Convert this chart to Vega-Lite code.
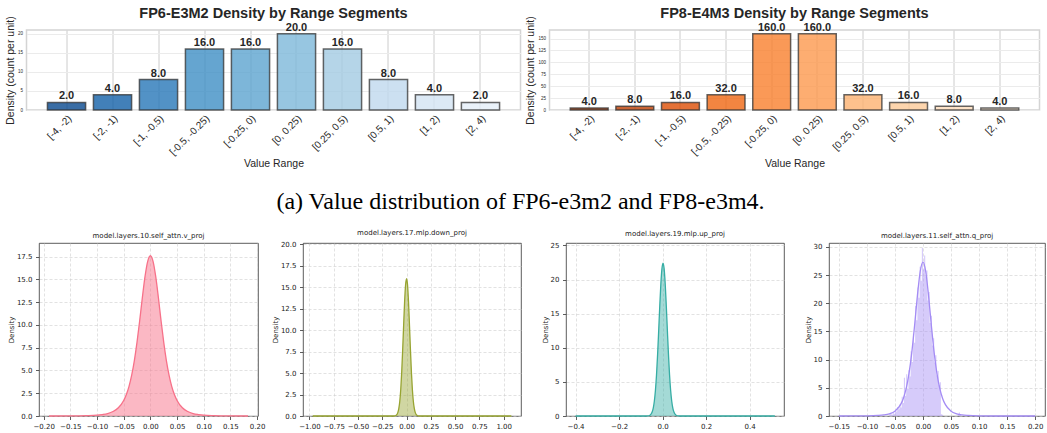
{
  "$schema": "https://vega.github.io/schema/vega-lite/v6.json",
  "background": "white",
  "padding": {"left": 4.5, "top": 5, "right": 0, "bottom": 0},
  "config": {
    "font": "Liberation Sans",
    "title": {"color": "#262626"},
    "axis": {"labelColor": "#262626", "titleColor": "#262626"}
  },
  "datasets": {
    "fp6": [
      {"range": "[-4, -2)", "density": 2},
      {"range": "[-2, -1)", "density": 4},
      {"range": "[-1, -0.5)", "density": 8},
      {"range": "[-0.5, -0.25)", "density": 16},
      {"range": "[-0.25, 0)", "density": 16},
      {"range": "[0, 0.25)", "density": 20},
      {"range": "[0.25, 0.5)", "density": 16},
      {"range": "[0.5, 1)", "density": 8},
      {"range": "[1, 2)", "density": 4},
      {"range": "[2, 4)", "density": 2}
    ],
    "fp8": [
      {"range": "[-4, -2)", "density": 4},
      {"range": "[-2, -1)", "density": 8},
      {"range": "[-1, -0.5)", "density": 16},
      {"range": "[-0.5, -0.25)", "density": 32},
      {"range": "[-0.25, 0)", "density": 160},
      {"range": "[0, 0.25)", "density": 160},
      {"range": "[0.25, 0.5)", "density": 32},
      {"range": "[0.5, 1)", "density": 16},
      {"range": "[1, 2)", "density": 8},
      {"range": "[2, 4)", "density": 4}
    ],
    "p1": [
      {"x": -0.19, "y": 0.0}, {"x": -0.15, "y": 0.01}, {"x": -0.12, "y": 0.04}, {"x": -0.10, "y": 0.09},
      {"x": -0.09, "y": 0.16}, {"x": -0.08, "y": 0.27}, {"x": -0.07, "y": 0.49}, {"x": -0.06, "y": 0.90},
      {"x": -0.05, "y": 1.70}, {"x": -0.045, "y": 2.36}, {"x": -0.04, "y": 3.26}, {"x": -0.035, "y": 4.48},
      {"x": -0.03, "y": 6.09}, {"x": -0.025, "y": 8.11}, {"x": -0.02, "y": 10.48}, {"x": -0.015, "y": 13.01},
      {"x": -0.01, "y": 15.33}, {"x": -0.005, "y": 16.99}, {"x": 0.0, "y": 17.6}, {"x": 0.005, "y": 16.99},
      {"x": 0.01, "y": 15.33}, {"x": 0.015, "y": 13.01}, {"x": 0.02, "y": 10.48}, {"x": 0.025, "y": 8.11},
      {"x": 0.03, "y": 6.09}, {"x": 0.035, "y": 4.48}, {"x": 0.04, "y": 3.26}, {"x": 0.045, "y": 2.36},
      {"x": 0.05, "y": 1.70}, {"x": 0.06, "y": 0.90}, {"x": 0.07, "y": 0.49}, {"x": 0.08, "y": 0.27},
      {"x": 0.09, "y": 0.16}, {"x": 0.10, "y": 0.09}, {"x": 0.12, "y": 0.04}, {"x": 0.15, "y": 0.01},
      {"x": 0.183, "y": 0.0}
    ],
    "p2": [
      {"x": -0.966, "y": 0}, {"x": -0.5, "y": 0}, {"x": -0.14, "y": 0}, {"x": -0.12, "y": 0.02},
      {"x": -0.11, "y": 0.06}, {"x": -0.10, "y": 0.16}, {"x": -0.09, "y": 0.39}, {"x": -0.08, "y": 0.85},
      {"x": -0.07, "y": 1.69}, {"x": -0.06, "y": 3.06}, {"x": -0.05, "y": 5.08}, {"x": -0.04, "y": 7.68},
      {"x": -0.03, "y": 10.58}, {"x": -0.02, "y": 13.32}, {"x": -0.01, "y": 15.28}, {"x": 0.0, "y": 16.0},
      {"x": 0.01, "y": 15.28}, {"x": 0.02, "y": 13.32}, {"x": 0.03, "y": 10.58}, {"x": 0.04, "y": 7.68},
      {"x": 0.05, "y": 5.08}, {"x": 0.06, "y": 3.06}, {"x": 0.07, "y": 1.69}, {"x": 0.08, "y": 0.85},
      {"x": 0.09, "y": 0.39}, {"x": 0.10, "y": 0.16}, {"x": 0.11, "y": 0.06}, {"x": 0.12, "y": 0.02},
      {"x": 0.14, "y": 0}, {"x": 0.5, "y": 0}, {"x": 1.079, "y": 0}
    ],
    "p3": [
      {"x": -0.4, "y": 0}, {"x": -0.2, "y": 0}, {"x": -0.078, "y": 0}, {"x": -0.068, "y": 0.01},
      {"x": -0.058, "y": 0.12}, {"x": -0.048, "y": 0.58}, {"x": -0.043, "y": 1.16}, {"x": -0.038, "y": 2.16},
      {"x": -0.033, "y": 3.74}, {"x": -0.028, "y": 6.01}, {"x": -0.023, "y": 8.99}, {"x": -0.018, "y": 12.49},
      {"x": -0.013, "y": 16.13}, {"x": -0.008, "y": 19.36}, {"x": -0.003, "y": 21.6}, {"x": 0.002, "y": 22.4},
      {"x": 0.007, "y": 21.6}, {"x": 0.012, "y": 19.36}, {"x": 0.017, "y": 16.13}, {"x": 0.022, "y": 12.49},
      {"x": 0.027, "y": 8.99}, {"x": 0.032, "y": 6.01}, {"x": 0.037, "y": 3.74}, {"x": 0.042, "y": 2.16},
      {"x": 0.047, "y": 1.16}, {"x": 0.052, "y": 0.58}, {"x": 0.062, "y": 0.12}, {"x": 0.072, "y": 0.01},
      {"x": 0.082, "y": 0}, {"x": 0.2, "y": 0}, {"x": 0.516, "y": 0}
    ],
    "p4": [
      {"x": -0.15, "y": 0}, {"x": -0.10, "y": 0.03}, {"x": -0.08, "y": 0.10}, {"x": -0.07, "y": 0.19},
      {"x": -0.06, "y": 0.39}, {"x": -0.05, "y": 0.86}, {"x": -0.04, "y": 2.01}, {"x": -0.035, "y": 3.12},
      {"x": -0.03, "y": 4.85}, {"x": -0.025, "y": 7.46}, {"x": -0.02, "y": 11.19}, {"x": -0.015, "y": 16.01},
      {"x": -0.01, "y": 21.28}, {"x": -0.005, "y": 25.6}, {"x": 0.0, "y": 27.3}, {"x": 0.005, "y": 25.6},
      {"x": 0.01, "y": 21.28}, {"x": 0.015, "y": 16.01}, {"x": 0.02, "y": 11.19}, {"x": 0.025, "y": 7.46},
      {"x": 0.03, "y": 4.85}, {"x": 0.035, "y": 3.12}, {"x": 0.04, "y": 2.01}, {"x": 0.05, "y": 0.86},
      {"x": 0.06, "y": 0.39}, {"x": 0.07, "y": 0.19}, {"x": 0.08, "y": 0.10}, {"x": 0.10, "y": 0.03},
      {"x": 0.15, "y": 0}, {"x": 0.20, "y": 0}
    ],
    "p4hist": [
      {"x": -0.062, "y": 0.0}, {"x": -0.060, "y": 0.3}, {"x": -0.058, "y": 0.5}, {"x": -0.056, "y": 0.2},
      {"x": -0.054, "y": 0.6}, {"x": -0.052, "y": 0.4}, {"x": -0.050, "y": 0.9}, {"x": -0.048, "y": 0.8},
      {"x": -0.046, "y": 1.6}, {"x": -0.044, "y": 1.2}, {"x": -0.042, "y": 2.1}, {"x": -0.040, "y": 1.5},
      {"x": -0.038, "y": 3.4}, {"x": -0.036, "y": 2.3}, {"x": -0.034, "y": 6.8}, {"x": -0.032, "y": 3.6},
      {"x": -0.030, "y": 7.4}, {"x": -0.028, "y": 4.8}, {"x": -0.026, "y": 8.1}, {"x": -0.024, "y": 7.0},
      {"x": -0.022, "y": 11.5}, {"x": -0.020, "y": 9.6}, {"x": -0.018, "y": 14.6}, {"x": -0.016, "y": 13.0},
      {"x": -0.014, "y": 19.5}, {"x": -0.012, "y": 17.0}, {"x": -0.010, "y": 22.8}, {"x": -0.008, "y": 21.0},
      {"x": -0.006, "y": 26.5}, {"x": -0.004, "y": 24.0}, {"x": -0.002, "y": 29.8}, {"x": 0.000, "y": 26.0},
      {"x": 0.002, "y": 28.5}, {"x": 0.004, "y": 24.8}, {"x": 0.006, "y": 25.8}, {"x": 0.008, "y": 20.5},
      {"x": 0.010, "y": 22.0}, {"x": 0.012, "y": 16.5}, {"x": 0.014, "y": 17.8}, {"x": 0.016, "y": 12.5},
      {"x": 0.018, "y": 13.8}, {"x": 0.020, "y": 9.5}, {"x": 0.022, "y": 10.8}, {"x": 0.024, "y": 7.2},
      {"x": 0.026, "y": 8.0}, {"x": 0.028, "y": 5.5}, {"x": 0.030, "y": 6.0}, {"x": 0.032, "y": 0.3},
      {"x": 0.034, "y": 0.2}, {"x": 0.036, "y": 0.0}, {"x": 0.062, "y": 0.4}, {"x": 0.064, "y": 0.6},
      {"x": 0.066, "y": 0.3}, {"x": 0.068, "y": 0.0}
    ]
  },
  "vconcat": [
    {
      "hconcat": [
        {
          "width": 494, "height": 80,
          "view": {"stroke": "#d4d4d4", "strokeWidth": 1.5},
          "title": {"text": "FP6-E3M2 Density by Range Segments", "fontSize": 14.5, "fontWeight": "bold", "font": "Liberation Sans", "offset": -6, "color": "#262626"},
          "data": {"name": "fp6"},
          "encoding": {
            "x": {"field": "range", "type": "nominal", "sort": null,
                  "scale": {"paddingInner": 0.17, "paddingOuter": 0.455},
                  "axis": {"title": "Value Range", "titleFontSize": 10.5, "titleFontWeight": "normal", "titlePadding": 2,
                           "labelAngle": -45, "labelAlign": "right", "labelBaseline": "top", "labelFontSize": 10, "labelPadding": 3,
                           "ticks": false, "domain": false, "grid": true, "gridColor": "#cccccc", "bandPosition": 0.5}},
            "y": {"field": "density", "type": "quantitative", "scale": {"domain": [0, 21], "nice": false},
                  "axis": {"title": "Density (count per unit)", "titleFontSize": 10.5, "titleFontWeight": "normal", "titlePadding": 2,
                           "labelFontSize": 4.5, "labelPadding": 4, "ticks": false, "domain": false, "grid": true, "gridColor": "#ebebeb",
                           "values": [0, 5, 10, 15, 20]}}
          },
          "layer": [
            {"mark": {"type": "bar", "fillOpacity": 0.8, "stroke": "#333333", "strokeOpacity": 0.75, "strokeWidth": 1.5},
             "encoding": {"color": {"field": "range", "type": "nominal", "sort": null, "legend": null,
               "scale": {"domain": ["[-4, -2)", "[-2, -1)", "[-1, -0.5)", "[-0.5, -0.25)", "[-0.25, 0)", "[0, 0.25)", "[0.25, 0.5)", "[0.5, 1)", "[1, 2)", "[2, 4)"],
                         "range": ["#08488f", "#1360a7", "#2777b8", "#3f8fc4", "#5ca4d0", "#7db8da", "#a2cbe2", "#bfd8ed", "#d3e4f3", "#e5eff9"]}}}},
            {"mark": {"type": "text", "fontWeight": "bold", "fontSize": 11, "baseline": "bottom", "dy": -1, "color": "#262626"},
             "encoding": {"text": {"field": "density", "type": "quantitative", "format": ".1f"}}}
          ]
        },
        {
          "width": 490, "height": 80,
          "view": {"stroke": "#d4d4d4", "strokeWidth": 1.5},
          "title": {"text": "FP8-E4M3 Density by Range Segments", "fontSize": 14.5, "fontWeight": "bold", "font": "Liberation Sans", "offset": -6, "color": "#262626"},
          "data": {"name": "fp8"},
          "encoding": {
            "x": {"field": "range", "type": "nominal", "sort": null,
                  "scale": {"paddingInner": 0.17, "paddingOuter": 0.455},
                  "axis": {"title": "Value Range", "titleFontSize": 10.5, "titleFontWeight": "normal", "titlePadding": 2,
                           "labelAngle": -45, "labelAlign": "right", "labelBaseline": "top", "labelFontSize": 10, "labelPadding": 3,
                           "ticks": false, "domain": false, "grid": true, "gridColor": "#cccccc", "bandPosition": 0.5}},
            "y": {"field": "density", "type": "quantitative", "scale": {"domain": [0, 168], "nice": false},
                  "axis": {"title": "Density (count per unit)", "titleFontSize": 10.5, "titleFontWeight": "normal", "titlePadding": 2,
                           "labelFontSize": 4.5, "labelPadding": 4, "ticks": false, "domain": false, "grid": true, "gridColor": "#ebebeb",
                           "values": [0, 25, 50, 75, 100, 125, 150]}}
          },
          "layer": [
            {"mark": {"type": "bar", "fillOpacity": 0.8, "stroke": "#333333", "strokeOpacity": 0.75, "strokeWidth": 1.5},
             "encoding": {"color": {"field": "range", "type": "nominal", "sort": null, "legend": null,
               "scale": {"domain": ["[-4, -2)", "[-2, -1)", "[-1, -0.5)", "[-0.5, -0.25)", "[-0.25, 0)", "[0, 0.25)", "[0.25, 0.5)", "[0.5, 1)", "[1, 2)", "[2, 4)"],
                         "range": ["#9b3203", "#bd3e02", "#dd4e04", "#ef6611", "#f9802d", "#fd994d", "#fdb170", "#fdca98", "#fedcba", "#feead6"]}}}},
            {"mark": {"type": "text", "fontWeight": "bold", "fontSize": 11, "baseline": "bottom", "dy": -1, "color": "#262626"},
             "encoding": {"text": {"field": "density", "type": "quantitative", "format": ".1f"}}}
          ]
        }
      ],
      "spacing": 29,
      "bounds": "flush",
      "resolve": {"scale": {"color": "independent"}},
      "title": {"text": "(a) Value distribution of FP6-e3m2 and FP8-e3m4.", "orient": "bottom", "font": "Liberation Serif", "fontSize": 24, "fontWeight": "normal", "color": "#000000", "offset": 20, "anchor": "middle", "dx": -2}
    },
    {
      "hconcat": [
        {
          "width": 1, "height": 1,
          "data": {"values": []},
          "mark": {"type": "point"},
          "view": {"stroke": null}
        },
        {
          "hconcat": [
            {
              "width": 219, "height": 173,
              "view": {"stroke": "#333333", "strokeWidth": 0.8},
              "title": {"text": "model.layers.10.self_attn.v_proj", "font": "DejaVu Sans", "fontSize": 7, "fontWeight": "normal", "offset": 4, "color": "#222222"},
              "data": {"name": "p1"},
              "encoding": {
                "x": {"field": "x", "type": "quantitative", "scale": {"domain": [-0.2087, 0.2017], "nice": false, "zero": false},
                      "axis": {"title": null, "values": [-0.2, -0.15, -0.1, -0.05, 0, 0.05, 0.1, 0.15, 0.2], "format": ".2f",
                               "labelFont": "DejaVu Sans", "labelFontSize": 7, "labelColor": "#222222", "labelFlush": false, "labelOverlap": false, "labelPadding": 3,
                               "tickColor": "#333333", "tickSize": 3.5, "tickWidth": 0.8, "domain": false,
                               "grid": true, "gridColor": "#cfcfcf", "gridDash": [3, 2], "gridWidth": 0.6}},
                "y": {"field": "y", "type": "quantitative", "scale": {"domain": [0, 19], "nice": false},
                      "axis": {"title": "Density", "titleFont": "DejaVu Sans", "titleFontSize": 7, "titleFontWeight": "normal", "titlePadding": 2, "titleColor": "#222222",
                               "values": [0, 2.5, 5, 7.5, 10, 12.5, 15, 17.5], "format": ".1f",
                               "labelFont": "DejaVu Sans", "labelFontSize": 7, "labelColor": "#222222", "labelFlush": false, "labelOverlap": false, "labelPadding": 3.5,
                               "tickColor": "#333333", "tickSize": 3.5, "tickWidth": 0.8, "domain": false,
                               "grid": true, "gridColor": "#cfcfcf", "gridDash": [3, 2], "gridWidth": 0.6}}
              },
              "layer": [
                {"mark": {"type": "area", "color": "#f77189", "opacity": 0.5, "interpolate": "monotone"}, "encoding": {}},
                {"mark": {"type": "line", "color": "#f77189", "strokeWidth": 1.3, "interpolate": "monotone"}, "encoding": {}}
              ]
            },
            {
              "width": 218, "height": 173,
              "view": {"stroke": "#333333", "strokeWidth": 0.8},
              "title": {"text": "model.layers.17.mlp.down_proj", "font": "DejaVu Sans", "fontSize": 7, "fontWeight": "normal", "offset": 4, "color": "#222222"},
              "data": {"name": "p2"},
              "encoding": {
                "x": {"field": "x", "type": "quantitative", "scale": {"domain": [-1.066, 1.178], "nice": false, "zero": false},
                      "axis": {"title": null, "values": [-1, -0.75, -0.5, -0.25, 0, 0.25, 0.5, 0.75, 1], "format": ".2f",
                               "labelFont": "DejaVu Sans", "labelFontSize": 7, "labelColor": "#222222", "labelFlush": false, "labelOverlap": false, "labelPadding": 3,
                               "tickColor": "#333333", "tickSize": 3.5, "tickWidth": 0.8, "domain": false,
                               "grid": true, "gridColor": "#cfcfcf", "gridDash": [3, 2], "gridWidth": 0.6}},
                "y": {"field": "y", "type": "quantitative", "scale": {"domain": [0, 20.15], "nice": false},
                      "axis": {"title": "Density", "titleFont": "DejaVu Sans", "titleFontSize": 7, "titleFontWeight": "normal", "titlePadding": 2, "titleColor": "#222222",
                               "values": [0, 2.5, 5, 7.5, 10, 12.5, 15, 17.5, 20], "format": ".1f",
                               "labelFont": "DejaVu Sans", "labelFontSize": 7, "labelColor": "#222222", "labelFlush": false, "labelOverlap": false, "labelPadding": 3.5,
                               "tickColor": "#333333", "tickSize": 3.5, "tickWidth": 0.8, "domain": false,
                               "grid": true, "gridColor": "#cfcfcf", "gridDash": [3, 2], "gridWidth": 0.6}}
              },
              "layer": [
                {"mark": {"type": "area", "color": "#97a431", "opacity": 0.45, "interpolate": "monotone"}, "encoding": {}},
                {"mark": {"type": "line", "color": "#97a431", "strokeWidth": 1.3, "interpolate": "monotone"}, "encoding": {}}
              ]
            },
            {
              "width": 218, "height": 173,
              "view": {"stroke": "#333333", "strokeWidth": 0.8},
              "title": {"text": "model.layers.19.mlp.up_proj", "font": "DejaVu Sans", "fontSize": 7, "fontWeight": "normal", "offset": 4, "color": "#222222"},
              "data": {"name": "p3"},
              "encoding": {
                "x": {"field": "x", "type": "quantitative", "scale": {"domain": [-0.444, 0.558], "nice": false, "zero": false},
                      "axis": {"title": null, "values": [-0.4, -0.2, 0, 0.2, 0.4], "format": ".1f",
                               "labelFont": "DejaVu Sans", "labelFontSize": 7, "labelColor": "#222222", "labelFlush": false, "labelOverlap": false, "labelPadding": 3,
                               "tickColor": "#333333", "tickSize": 3.5, "tickWidth": 0.8, "domain": false,
                               "grid": true, "gridColor": "#cfcfcf", "gridDash": [3, 2], "gridWidth": 0.6}},
                "y": {"field": "y", "type": "quantitative", "scale": {"domain": [0, 25.35], "nice": false},
                      "axis": {"title": "Density", "titleFont": "DejaVu Sans", "titleFontSize": 7, "titleFontWeight": "normal", "titlePadding": 2, "titleColor": "#222222",
                               "values": [0, 5, 10, 15, 20, 25], "format": "d",
                               "labelFont": "DejaVu Sans", "labelFontSize": 7, "labelColor": "#222222", "labelFlush": false, "labelOverlap": false, "labelPadding": 3.5,
                               "tickColor": "#333333", "tickSize": 3.5, "tickWidth": 0.8, "domain": false,
                               "grid": true, "gridColor": "#cfcfcf", "gridDash": [3, 2], "gridWidth": 0.6}}
              },
              "layer": [
                {"mark": {"type": "area", "color": "#36ada4", "opacity": 0.45, "interpolate": "monotone"}, "encoding": {}},
                {"mark": {"type": "line", "color": "#36ada4", "strokeWidth": 1.3, "interpolate": "monotone"}, "encoding": {}}
              ]
            },
            {
              "width": 216, "height": 173,
              "view": {"stroke": "#333333", "strokeWidth": 0.8},
              "title": {"text": "model.layers.11.self_attn.q_proj", "font": "DejaVu Sans", "fontSize": 7, "fontWeight": "normal", "offset": 4, "color": "#222222"},
              "encoding": {
                "x": {"field": "x", "type": "quantitative", "scale": {"domain": [-0.1675, 0.2175], "nice": false, "zero": false},
                      "axis": {"title": null, "values": [-0.15, -0.1, -0.05, 0, 0.05, 0.1, 0.15, 0.2], "format": ".2f",
                               "labelFont": "DejaVu Sans", "labelFontSize": 7, "labelColor": "#222222", "labelFlush": false, "labelOverlap": false, "labelPadding": 3,
                               "tickColor": "#333333", "tickSize": 3.5, "tickWidth": 0.8, "domain": false,
                               "grid": true, "gridColor": "#cfcfcf", "gridDash": [3, 2], "gridWidth": 0.6}},
                "y": {"field": "y", "type": "quantitative", "scale": {"domain": [0, 30.7], "nice": false},
                      "axis": {"title": "Density", "titleFont": "DejaVu Sans", "titleFontSize": 7, "titleFontWeight": "normal", "titlePadding": 2, "titleColor": "#222222",
                               "values": [0, 5, 10, 15, 20, 25, 30], "format": "d",
                               "labelFont": "DejaVu Sans", "labelFontSize": 7, "labelColor": "#222222", "labelFlush": false, "labelOverlap": false, "labelPadding": 3.5,
                               "tickColor": "#333333", "tickSize": 3.5, "tickWidth": 0.8, "domain": false,
                               "grid": true, "gridColor": "#cfcfcf", "gridDash": [3, 2], "gridWidth": 0.6}}
              },
              "layer": [
                {"data": {"name": "p4hist"}, "mark": {"type": "area", "color": "#a48cf4", "opacity": 0.45, "interpolate": "step-after"}, "encoding": {}},
                {"data": {"name": "p4"}, "mark": {"type": "line", "color": "#a48cf4", "strokeWidth": 1.3, "interpolate": "monotone"}, "encoding": {}}
              ]
            }
          ],
          "spacing": 45,
          "bounds": "flush"
        }
      ],
      "spacing": 11.5,
      "bounds": "flush"
    }
  ],
  "align": "none",
  "spacing": 14
}
